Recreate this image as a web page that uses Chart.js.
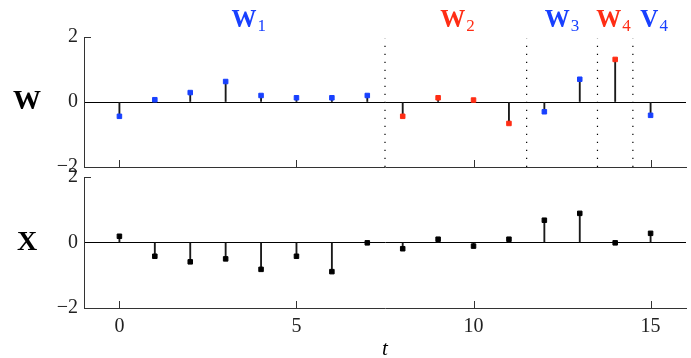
<!DOCTYPE html>
<html>
<head>
<meta charset="utf-8">
<script src="https://cdn.jsdelivr.net/npm/chart.js@4.4.0/dist/chart.umd.min.js"></script>
<style>
body { margin: 0; background: #fff; width: 691px; height: 358px; overflow: hidden; }
.panel { position: absolute; left: 0; width: 691px; }
</style>
</head>
<body>
<div class="panel" style="top:0;height:190px"><canvas id="w-chart"></canvas></div>
<div class="panel" style="top:150px;height:208px"><canvas id="x-chart"></canvas></div>
<script>
// time steps
const steps = [0, 1, 2, 3, 4, 5, 6, 7, 8, 9, 10, 11, 12, 13, 14, 15];
// W panel values
const wValues = [-0.44, 0.07, 0.29, 0.63, 0.20, 0.13, 0.13, 0.20, -0.44, 0.13, 0.06, -0.66, -0.30, 0.70, 1.31, -0.41];
// X panel values
const xValues = [0.19, -0.42, -0.59, -0.50, -0.82, -0.42, -0.89, -0.01, -0.19, 0.10, -0.11, 0.10, 0.68, 0.89, -0.01, 0.28];

const BLUE = 'rgb(24, 64, 255)';
const RED = 'rgb(255, 45, 20)';
const wColors = [BLUE, BLUE, BLUE, BLUE, BLUE, BLUE, BLUE, BLUE, RED, RED, RED, RED, BLUE, BLUE, RED, BLUE];
const xColors = steps.map(() => '#000');

// block boundaries (dotted lines) and block labels
const separators = [7.5, 11.5, 13.5, 14.5];
const groupNames = ['W', 'W', 'W', 'W', 'V'];
const groupSubs = ['1', '2', '3', '4', '4'];
const groupPos = [3.65, 9.55, 12.5, 13.95, 15.1];
const groupColors = [BLUE, RED, BLUE, RED, BLUE];

const xTicks = [0, 5, 10, 15];
const yTicks = [-2, 0, 2];

const SERIF = '"Liberation Serif", "DejaVu Serif", serif';
const axisGrey = '#333';

const panelDecor = {
    id: 'panelDecor',
    afterDraw(chart, args, opts) {
        const { ctx, chartArea, scales: { x, y } } = chart;
        ctx.save();
        // inward tick marks
        ctx.strokeStyle = axisGrey;
        ctx.lineWidth = 1;
        ctx.beginPath();
        xTicks.forEach(v => {
            const px = Math.round(x.getPixelForValue(v)) + 0.5;
            ctx.moveTo(px, chartArea.bottom);
            ctx.lineTo(px, chartArea.bottom - 7);
        });
        [-2, 2].forEach(v => {
            const py = Math.round(y.getPixelForValue(v)) + 0.5;
            ctx.moveTo(chartArea.left, py);
            ctx.lineTo(chartArea.left + 7, py);
        });
        ctx.stroke();

        // panel name on the left
        ctx.fillStyle = '#000';
        ctx.font = 'bold 28px ' + SERIF;
        ctx.textAlign = 'center';
        ctx.textBaseline = 'middle';
        ctx.fillText(opts.label, 27, y.getPixelForValue(0));

        // block labels above the W panel
        if (opts.groups) {
            ctx.textAlign = 'left';
            ctx.textBaseline = 'alphabetic';
            groupNames.forEach((name, i) => {
                ctx.font = 'bold 25px ' + SERIF;
                const wMain = ctx.measureText(name).width;
                ctx.font = '17px ' + SERIF;
                const wSub = ctx.measureText(groupSubs[i]).width;
                const left = x.getPixelForValue(groupPos[i]) - (wMain + wSub + 1) / 2;
                ctx.fillStyle = groupColors[i];
                ctx.font = 'bold 25px ' + SERIF;
                ctx.fillText(name, left, 27);
                ctx.font = '17px ' + SERIF;
                ctx.fillText(groupSubs[i], left + wMain + 1, 31);
            });
        }
        ctx.restore();
    }
};

function makePanel(canvasId, values, colors, isBottom) {
    const points = steps.map((t, i) => ({ x: t, y: values[i] }));
    const datasets = [
        {
            type: 'scatter',
            data: points,
            pointStyle: 'rect',
            pointRadius: 3.2,
            pointBackgroundColor: colors,
            pointBorderColor: colors,
            pointBorderWidth: 1,
            order: 0
        },
        {
            type: 'bar',
            data: points,
            backgroundColor: '#1a1a1a',
            barThickness: 1.2,
            borderWidth: 0,
            order: 1
        }
    ];
    if (!isBottom) {
        separators.forEach(s => {
            datasets.push({
                type: 'line',
                data: [{ x: s, y: -2 }, { x: s, y: 1.95 }],
                showLine: true,
                borderColor: '#000',
                borderWidth: 1.2,
                borderDash: [1.2, 6.8],
                pointRadius: 0,
                order: 2
            });
        });
    }

    return new Chart(document.getElementById(canvasId), {
        type: 'scatter',
        data: { datasets: datasets },
        plugins: [panelDecor],
        options: {
            responsive: true,
            maintainAspectRatio: false,
            animation: false,
            layout: { padding: { top: isBottom ? 27 : 37, right: 0, left: 0, bottom: 0 } },
            plugins: {
                legend: { display: false },
                tooltip: { enabled: false },
                panelDecor: { label: isBottom ? 'X' : 'W', groups: !isBottom }
            },
            scales: {
                x: {
                    type: 'linear',
                    min: -1,
                    max: 16,
                    offset: false,
                    afterBuildTicks: s => { s.ticks = xTicks.map(v => ({ value: v })); },
                    afterFit: s => { s.height = isBottom ? 50 : 23; },
                    grid: { display: false, drawTicks: false },
                    border: { display: true, color: axisGrey, width: 1 },
                    ticks: {
                        display: isBottom,
                        padding: 7,
                        maxRotation: 0,
                        color: '#222',
                        font: { family: SERIF, size: 20 }
                    },
                    title: {
                        display: isBottom,
                        text: 't',
                        color: '#000',
                        padding: { top: 0, bottom: -4 },
                        font: { family: SERIF, size: 21, style: 'italic' }
                    }
                },
                y: {
                    min: -2,
                    max: 2,
                    afterBuildTicks: s => { s.ticks = yTicks.map(v => ({ value: v })); },
                    afterFit: s => { s.width = 84; },
                    grid: {
                        drawTicks: false,
                        color: c => (c.tick && c.tick.value === 0) ? '#000' : 'rgba(0,0,0,0)',
                        lineWidth: 1
                    },
                    border: { display: true, color: axisGrey, width: 1 },
                    ticks: {
                        padding: 6,
                        color: '#222',
                        font: { family: SERIF, size: 20 },
                        callback: v => v < 0 ? '\u2212' + (-v) : String(v)
                    }
                }
            }
        }
    });
}

makePanel('w-chart', wValues, wColors, false);
makePanel('x-chart', xValues, xColors, true);
</script>
</body>
</html>
